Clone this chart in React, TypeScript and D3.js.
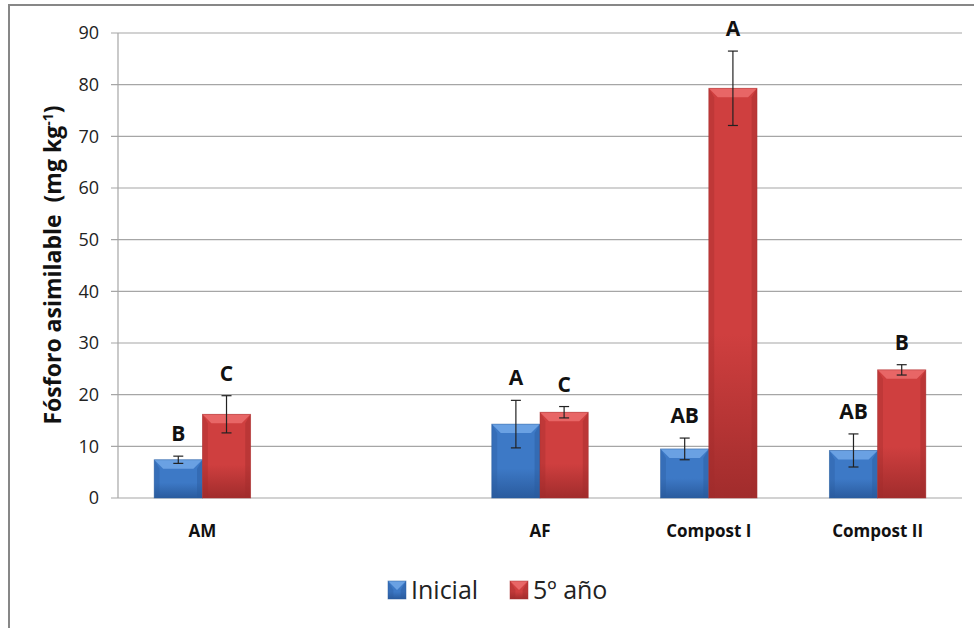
import React from 'react';
import * as d3 from 'd3';

// data
const categories = ['AM', '', 'AF', 'Compost I', 'Compost II'];
const seriesNames = ['Inicial', '5º año'];
const inicial = [7.4, null, 14.3, 9.5, 9.2];
const quinto = [16.2, null, 16.6, 79.3, 24.8];
const inicialErr = [0.7, null, 4.6, 2.1, 3.2];
const quintoErr = [3.6, null, 1.1, 7.2, 1.0];
const inicialLetters = ['B', '', 'A', 'AB', 'AB'];
const quintoLetters = ['C', '', 'C', 'A', 'B'];
const yTicks = [0, 10, 20, 30, 40, 50, 60, 70, 80, 90];

// constants
const width = 974;
const height = 628;
const margin = { top: 33, right: 12, bottom: 130, left: 118 };
const font = "'Open Sans', 'Noto Sans', sans-serif";

const palettes = [
  { base: '#3d79c6', light: '#6fa5e6', dark: '#2a5b9e', edge: '#2d5f9f' },
  { base: '#cf3f3f', light: '#ea6a6a', dark: '#a12c2c', edge: '#a83232' },
];

const Bar = ({ x, y, w, h, p, id }) => {
  const b = Math.min(9, h / 2);
  return (
    <g>
      <rect x={x} y={y} width={w} height={h} fill={`url(#grad${id})`} />
      <polygon points={`${x},${y} ${x + w},${y} ${x + w - b},${y + b} ${x + b},${y + b}`} fill={p.light} opacity={0.9} />
      <polygon points={`${x},${y} ${x + b * 0.6},${y + b} ${x + b * 0.6},${y + h} ${x},${y + h}`} fill={p.dark} opacity={0.35} />
      <polygon points={`${x + w},${y} ${x + w - b * 0.6},${y + b} ${x + w - b * 0.6},${y + h} ${x + w},${y + h}`} fill={p.dark} opacity={0.45} />
      <rect x={x} y={y} width={w} height={h} fill="none" stroke={p.edge} strokeWidth={0.8} opacity={0.6} />
    </g>
  );
};

const App = () => {
  const innerWidth = width - margin.left - margin.right;
  const y0 = 498;

  const xScale = d3.scaleBand().domain(categories.map((d, i) => String(i))).range([margin.left, margin.left + innerWidth]);
  const xSub = d3.scaleBand().domain(['0', '1']).range([0, xScale.bandwidth()]).paddingOuter(0.75);
  const yScale = d3.scaleLinear().domain([0, 90]).range([y0, margin.top]);

  const series = [
    { values: inicial, errs: inicialErr, letters: inicialLetters },
    { values: quinto, errs: quintoErr, letters: quintoLetters },
  ];

  return (
    <svg width={width} height={height} style={{ position: 'absolute', left: 0, top: 0, background: '#fff' }}>
      <defs>
        {palettes.map((p, i) => (
          <linearGradient key={i} id={`grad${i}`} x1="0" y1="0" x2="0" y2="1">
            <stop offset="0" stopColor={p.base} />
            <stop offset="0.6" stopColor={p.base} />
            <stop offset="1" stopColor={p.dark} />
          </linearGradient>
        ))}
      </defs>

      {/* outer frame */}
      <line x1={9} x2={9} y1={5} y2={height} stroke="#878787" strokeWidth={2} />
      <line x1={8} x2={width} y1={5} y2={5} stroke="#878787" strokeWidth={2} />

      {/* gridlines and ticks */}
      {yTicks.map(t => (
        <g key={t}>
          <line x1={margin.left - 7} x2={margin.left + innerWidth} y1={yScale(t)} y2={yScale(t)} stroke="#a6a6a6" strokeWidth={1.2} />
          <text x={99} y={yScale(t)} dy="0.35em" textAnchor="end" fontFamily={font} fontSize={18} fill="#222">{t}</text>
        </g>
      ))}
      <line x1={margin.left} x2={margin.left} y1={margin.top} y2={y0} stroke="#a6a6a6" strokeWidth={1.2} />

      {/* bars */}
      {series.map((s, si) =>
        s.values.map((v, i) => {
          if (v == null) return null;
          const x = xScale(String(i)) + xSub(String(si));
          const w = xSub.bandwidth();
          const cx = x + w / 2;
          const top = yScale(v + s.errs[i]);
          const bot = yScale(v - s.errs[i]);
          return (
            <g key={`${si}-${i}`}>
              <Bar x={x} y={yScale(v)} w={w} h={y0 - yScale(v)} p={palettes[si]} id={si} />
              <line x1={cx} x2={cx} y1={top} y2={bot} stroke="#222" strokeWidth={1.2} />
              <line x1={cx - 5} x2={cx + 5} y1={top} y2={top} stroke="#222" strokeWidth={1.2} />
              <line x1={cx - 5} x2={cx + 5} y1={bot} y2={bot} stroke="#222" strokeWidth={1.2} />
              <text x={cx} y={top - 15} textAnchor="middle" fontFamily={font} fontWeight="bold" fontSize={21} fill="#111">{s.letters[i]}</text>
            </g>
          );
        })
      )}

      {/* category labels */}
      {categories.map((c, i) => (
        <text key={i} x={xScale(String(i)) + xScale.bandwidth() / 2} y={531} dy="0.35em" textAnchor="middle" fontFamily={font} fontWeight="bold" fontSize={17} fill="#111">{c}</text>
      ))}

      {/* y axis title */}
      <text transform="translate(53,265) rotate(-90)" textAnchor="middle" dy="0.35em" fontFamily={font} fontWeight="bold" fontSize={23} fill="#111" style={{ whiteSpace: 'pre' }}>
        {'Fósforo asimilable  (mg kg'}<tspan dy="-8" fontSize={14}>-1</tspan><tspan dy="8">)</tspan>
      </text>

      {/* legend */}
      {seriesNames.map((n, i) => {
        const lx = i === 0 ? 388 : 510;
        return (
          <g key={n}>
            <Bar x={lx} y={581} w={18} h={18} p={palettes[i]} id={i} />
            <text x={lx + 23} y={590} dy="0.36em" fontFamily={font} fontSize={25} fill="#222">{n}</text>
          </g>
        );
      })}
    </svg>
  );
};

export default App;
